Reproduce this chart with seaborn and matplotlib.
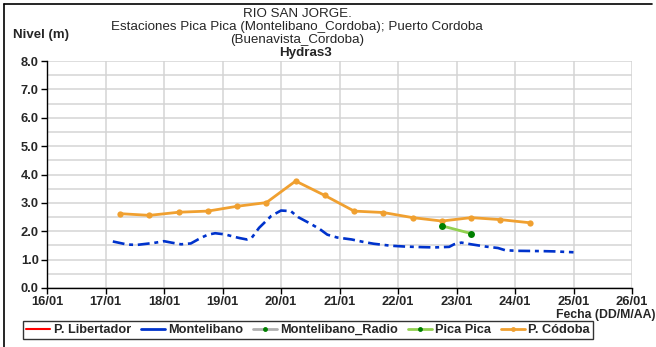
import matplotlib
matplotlib.use("Agg")
import matplotlib.pyplot as plt
import matplotlib.dates as mdates
from matplotlib.lines import Line2D
from matplotlib.ticker import MultipleLocator, FormatStrFormatter
import pandas as pd
import seaborn as sns

# Montelibano water level (m)
montelibano_time = [
    "2012-01-17 03:00", "2012-01-17 09:00", "2012-01-17 13:00", "2012-01-17 20:00",
    "2012-01-18 00:00", "2012-01-18 03:00", "2012-01-18 07:00", "2012-01-18 11:00",
    "2012-01-18 15:00", "2012-01-18 18:00", "2012-01-18 21:00", "2012-01-19 01:00",
    "2012-01-19 05:00", "2012-01-19 07:00", "2012-01-19 10:00", "2012-01-19 12:00",
    "2012-01-19 15:00", "2012-01-19 20:00", "2012-01-20 00:00", "2012-01-20 04:00",
    "2012-01-20 07:00", "2012-01-20 12:00", "2012-01-20 16:00", "2012-01-20 19:00",
    "2012-01-20 23:00", "2012-01-21 05:00", "2012-01-21 10:00", "2012-01-21 14:00",
    "2012-01-21 21:00", "2012-01-22 03:00", "2012-01-22 10:00", "2012-01-22 15:00",
    "2012-01-22 21:00", "2012-01-22 23:00", "2012-01-23 02:00", "2012-01-23 06:00",
    "2012-01-23 12:00", "2012-01-23 17:00", "2012-01-23 20:00", "2012-01-24 01:00",
    "2012-01-24 11:00", "2012-01-24 16:00", "2012-01-25 00:00",
]
montelibano_level = [
    1.64, 1.53, 1.52, 1.59,
    1.65, 1.60, 1.54, 1.57,
    1.76, 1.88, 1.93, 1.89,
    1.80, 1.76, 1.71, 1.77,
    2.12, 2.54, 2.73, 2.71,
    2.50, 2.27, 2.07, 1.88,
    1.78, 1.71, 1.62, 1.56,
    1.49, 1.46, 1.44, 1.43,
    1.45, 1.54, 1.60, 1.54,
    1.46, 1.41, 1.33, 1.31,
    1.30, 1.29, 1.26,
]

# Pica Pica level (m)
picapica_time = ["2012-01-22 18:00", "2012-01-23 06:00"]
picapica_level = [2.19, 1.92]

# P. Córdoba level (m)
cordoba_time = [
    "2012-01-17 06:00", "2012-01-17 18:00", "2012-01-18 06:00", "2012-01-18 18:00",
    "2012-01-19 06:00", "2012-01-19 18:00", "2012-01-20 06:00", "2012-01-20 18:00",
    "2012-01-21 06:00", "2012-01-21 18:00", "2012-01-22 06:00", "2012-01-22 18:00",
    "2012-01-23 06:00", "2012-01-23 18:00", "2012-01-24 06:00",
]
cordoba_level = [
    2.62, 2.56, 2.67, 2.71, 2.88, 3.01, 3.77, 3.26,
    2.71, 2.66, 2.48, 2.36, 2.48, 2.41, 2.30,
]

legend_labels = ["P. Libertador", "Montelibano", "Montelibano_Radio", "Pica Pica", "P. Códoba"]
title_lines = [
    "RIO SAN JORGE.",
    "Estaciones Pica Pica (Montelibano_Cordoba); Puerto Cordoba",
    "(Buenavista_Cordoba)",
]
subtitle = "Hydras3"

BLUE = "#0033cc"
ORANGE = "#f0a030"
LGREEN = "#92d050"
DGREEN = "#008000"
GRID = "#d4d4d4"

sns.set_theme(style="white")
plt.rcParams["font.family"] = ["Liberation Sans", "DejaVu Sans"]

df_m = pd.DataFrame({"t": pd.to_datetime(montelibano_time), "v": montelibano_level})
df_p = pd.DataFrame({"t": pd.to_datetime(picapica_time), "v": picapica_level})
df_c = pd.DataFrame({"t": pd.to_datetime(cordoba_time), "v": cordoba_level})

fig = plt.figure(figsize=(6.56, 3.47), dpi=100)
ax = fig.add_axes([47 / 656, 1 - 288 / 347, (632 - 47) / 656, (288 - 61) / 347])

sns.lineplot(data=df_m, x="t", y="v", ax=ax, color=BLUE, lw=1.9,
             linestyle=(0, (4.5, 1.8, 1.5, 1.8)), legend=False, zorder=3)
sns.lineplot(data=df_c, x="t", y="v", ax=ax, color=ORANGE, lw=2.0,
             marker="o", markersize=4.5, markeredgewidth=0, legend=False, zorder=4)
sns.lineplot(data=df_p, x="t", y="v", ax=ax, color=LGREEN, lw=2.0,
             marker="o", markersize=5, markerfacecolor=DGREEN, markeredgewidth=0,
             legend=False, zorder=5)

ax.set_xlim(pd.Timestamp("2012-01-16"), pd.Timestamp("2012-01-26"))
ax.set_ylim(0, 8)
ax.xaxis.set_major_locator(mdates.DayLocator())
ax.xaxis.set_major_formatter(mdates.DateFormatter("%d/%m"))
ax.yaxis.set_major_locator(MultipleLocator(1.0))
ax.yaxis.set_minor_locator(MultipleLocator(0.5))
ax.yaxis.set_major_formatter(FormatStrFormatter("%.1f"))
ax.set_xlabel("")
ax.set_ylabel("")

ax.grid(True, which="major", axis="both", color=GRID, lw=1.1)
ax.grid(True, which="minor", axis="y", color=GRID, lw=1.1)
ax.set_axisbelow(True)
for side in ["top", "right"]:
    ax.spines[side].set_visible(False)
for side in ["left", "bottom"]:
    ax.spines[side].set_color("black")
    ax.spines[side].set_linewidth(1.0)
ax.tick_params(axis="both", which="major", direction="out", length=4, width=1,
               color="black", labelsize=9.3, pad=2, bottom=True, left=True)
ax.tick_params(axis="y", which="minor", length=0)
for lab in ax.get_xticklabels() + ax.get_yticklabels():
    lab.set_fontweight("bold")

# Titles and axis captions
title_y = [1 - 14 / 347, 1 - 27 / 347, 1 - 40 / 347]
for txt, yy in zip(title_lines, title_y):
    fig.text(297 / 656, yy, txt, ha="center", va="center", fontsize=9.6)
fig.text(305 / 656, 1 - 53 / 347, subtitle, ha="center", va="center",
         fontsize=9.6, fontweight="bold")
fig.text(13 / 656, 1 - 35 / 347, "Nivel (m)", ha="left", va="center",
         fontsize=9.5, fontweight="bold")
fig.text(655 / 656, 1 - 315 / 347, "Fecha (DD/M/AA)", ha="right", va="center",
         fontsize=8.8, fontweight="bold")

# Legend
handles = [
    Line2D([], [], color="red", lw=1.5),
    Line2D([], [], color=BLUE, lw=2),
    Line2D([], [], color="#b0b0b0", lw=2, marker="o", markersize=3.5,
           markerfacecolor=DGREEN, markeredgewidth=0),
    Line2D([], [], color=LGREEN, lw=2, marker="o", markersize=3.5,
           markerfacecolor=DGREEN, markeredgewidth=0),
    Line2D([], [], color=ORANGE, lw=2, marker="o", markersize=3.5,
           markerfacecolor=ORANGE, markeredgewidth=0),
]
leg = fig.legend(handles, legend_labels, loc="center", ncol=5,
                 bbox_to_anchor=(308 / 656, 1 - 330 / 347),
                 prop={"size": 9.2, "weight": "bold"}, frameon=True,
                 fancybox=False, edgecolor="black", handlelength=1.9,
                 handletextpad=0.25, columnspacing=0.75, borderpad=0.25)
leg.get_frame().set_linewidth(1.0)

# Outer chart frame (top and left edges)
fig.add_artist(Line2D([4 / 656, 652 / 656], [1 - 4 / 347, 1 - 4 / 347],
                      transform=fig.transFigure, color="black", lw=1.2))
fig.add_artist(Line2D([4 / 656, 4 / 656], [1 - 4 / 347, 0],
                      transform=fig.transFigure, color="black", lw=1.2))

fig.savefig("out.png", dpi=100)
